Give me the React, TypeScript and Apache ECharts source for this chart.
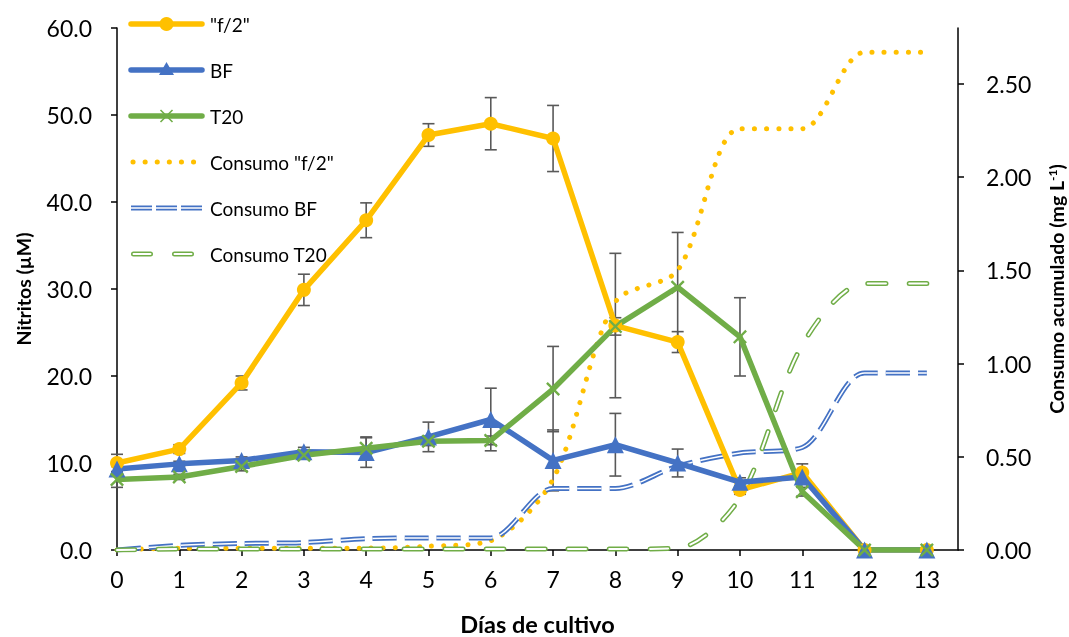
import React, { useEffect, useRef } from "react";
import * as echarts from "echarts";

const days = [0, 1, 2, 3, 4, 5, 6, 7, 8, 9, 10, 11, 12, 13];
const xTicks = [0, 1, 2, 3, 4, 5, 6, 7, 8, 9, 10, 11, 12, 13];
const rightTicks = [0, 0.5, 1, 1.5, 2, 2.5];

const f2 = [10.0, 11.6, 19.2, 29.9, 37.9, 47.7, 49.0, 47.3, 25.8, 23.9, 6.9, 8.9, 0, 0];
const bf = [9.3, 9.9, 10.3, 11.3, 11.2, 13.0, 15.0, 10.3, 12.1, 10.0, 7.8, 8.4, 0, 0];
const t20 = [8.1, 8.4, 9.6, 10.9, 11.7, 12.5, 12.6, 18.5, 25.7, 30.2, 24.5, 6.7, 0, 0];

const f2Err = [1.0, 0.5, 0.8, 1.8, 2.0, 1.3, 3.0, 3.8, 8.3, 1.2, 0.5, 1.0, 0, 0];
const bfErr = [0.3, 0.3, 0.4, 0.5, 1.7, 1.7, 3.6, 3.5, 3.6, 1.6, 0.5, 0.5, 0, 0];
const t20Err = [0.9, 0.3, 0.5, 0.4, 1.3, 0.5, 0.5, 4.9, 1.0, 6.3, 4.5, 0.5, 0, 0];

const consF2 = [0, 0.01, 0.01, 0.01, 0.01, 0.02, 0.05, 0.38, 1.33, 1.5, 2.26, 2.26, 2.67, 2.67];
const consBF = [0, 0.025, 0.035, 0.04, 0.06, 0.065, 0.065, 0.33, 0.33, 0.45, 0.52, 0.55, 0.95, 0.95];
const consT20 = [0, 0.005, 0.005, 0.005, 0.005, 0.005, 0.005, 0.005, 0.005, 0.01, 0.28, 1.1, 1.43, 1.43];

const legendNames = ['"f/2"', "BF", "T20", 'Consumo "f/2"', "Consumo BF", "Consumo T20"];

const YELLOW = "#FFC000";
const BLUE = "#4472C4";
const GREEN = "#70AD47";
const FONT = "Lato";

const pairs = (vals: number[]) => days.map((d, i) => [d, vals[i]]);
const errData = (vals: number[], errs: number[]) =>
  days.map((d, i) => [d, vals[i] - errs[i], vals[i] + errs[i], errs[i]]);

const errSeries = (name: string, vals: number[], errs: number[]) => ({
  name,
  type: "custom",
  xAxisIndex: 0,
  yAxisIndex: 0,
  data: errData(vals, errs),
  silent: true,
  renderItem: (params: any, api: any) => {
    const e = api.value(3);
    if (!e) return null;
    const x = api.value(0);
    const top = api.coord([x, api.value(2)]);
    const bot = api.coord([x, api.value(1)]);
    const style = { stroke: "#595959", lineWidth: 1.6 };
    const hw = 6;
    return {
      type: "group",
      children: [
        { type: "line", shape: { x1: top[0], y1: top[1], x2: bot[0], y2: bot[1] }, style },
        { type: "line", shape: { x1: top[0] - hw, y1: top[1], x2: top[0] + hw, y2: top[1] }, style },
        { type: "line", shape: { x1: bot[0] - hw, y1: bot[1], x2: bot[0] + hw, y2: bot[1] }, style },
      ],
    };
  },
});

const X_SYMBOL =
  "path://M0,1.2 L1.2,0 L5,3.8 L8.8,0 L10,1.2 L6.2,5 L10,8.8 L8.8,10 L5,6.2 L1.2,10 L0,8.8 L3.8,5 Z";

function buildLegend() {
  const x1 = 131;
  const x2 = 202;
  const xm = (x1 + x2) / 2;
  const tx = 210;
  const children: any[] = [];
  legendNames.forEach((name, i) => {
    const y = 24 + 46 * i;
    const seg = (style: any) => ({ type: "line", shape: { x1, y1: y, x2, y2: y }, style, silent: true });
    if (i === 0) {
      children.push(seg({ stroke: YELLOW, lineWidth: 5.5, lineCap: "round" }));
      children.push({ type: "circle", shape: { cx: xm, cy: y, r: 7 }, style: { fill: YELLOW } });
    } else if (i === 1) {
      children.push(seg({ stroke: BLUE, lineWidth: 5.5, lineCap: "round" }));
      children.push({
        type: "polygon",
        shape: { points: [[xm, y - 8], [xm + 7.5, y + 5], [xm - 7.5, y + 5]] },
        style: { fill: BLUE },
      });
    } else if (i === 2) {
      children.push(seg({ stroke: GREEN, lineWidth: 5.5, lineCap: "round" }));
      const s = 6;
      const st = { stroke: GREEN, lineWidth: 1.6 };
      children.push({ type: "line", shape: { x1: xm - s, y1: y - s, x2: xm + s, y2: y + s }, style: st });
      children.push({ type: "line", shape: { x1: xm - s, y1: y + s, x2: xm + s, y2: y - s }, style: st });
    } else if (i === 3) {
      children.push({
        type: "line",
        shape: { x1: x1 + 2, y1: y, x2: x2, y2: y },
        style: { stroke: YELLOW, lineWidth: 5, lineCap: "round", lineDash: [0.1, 12] },
      });
    } else if (i === 4) {
      children.push(seg({ stroke: BLUE, lineWidth: 5, lineDash: [21, 4] }));
      children.push(seg({ stroke: "#fff", lineWidth: 1.4, lineDash: [21, 4] }));
    } else {
      const sh = { x1: x1 + 2.5, y1: y, x2: x2, y2: y };
      children.push({ type: "line", shape: sh, style: { stroke: GREEN, lineWidth: 5, lineCap: "round", lineDash: [17, 24] } });
      children.push({ type: "line", shape: sh, style: { stroke: "#fff", lineWidth: 2, lineCap: "round", lineDash: [17, 24] } });
    }
    children.push({
      type: "text",
      x: tx,
      y,
      style: { text: name, fontFamily: FONT, fontSize: 19, fill: "#000", verticalAlign: "middle", align: "left" },
    });
  });
  return children;
}

export default function App() {
  const ref = useRef<HTMLDivElement>(null);

  useEffect(() => {
    if (!ref.current) return;
    const chart = echarts.init(ref.current, undefined, { renderer: "svg" });
    const axisLine = { show: true, lineStyle: { color: "#000", width: 1.5 } };
    const tick = { show: true, length: 6, lineStyle: { color: "#000", width: 1.5 } };
    const labelStyle = { fontFamily: FONT, fontSize: 23, color: "#000" };
    const nameStyle = { fontFamily: FONT, fontSize: 19.5, fontWeight: "bold" as const, color: "#000" };

    chart.setOption({
      animation: false,
      textStyle: { fontFamily: FONT },
      grid: { left: 117, right: 111, top: 28, bottom: 87, containLabel: false, outerBoundsMode: "none" },
      graphic: buildLegend(),
      xAxis: {
        type: "value",
        min: 0,
        max: 13.5,
        name: "Días de cultivo",
        nameLocation: "middle",
        nameGap: 64,
        nameTextStyle: { ...nameStyle, fontSize: 23.5, lineHeight: 20 },
        axisLine,
        axisTick: { ...tick, customValues: xTicks },
        axisLabel: { ...labelStyle, margin: 17, customValues: xTicks, formatter: (v: number) => String(v) },
        splitLine: { show: false },
      },
      yAxis: [
        {
          type: "value",
          min: 0,
          max: 60,
          interval: 10,
          name: "Nitritos (µM)",
          nameLocation: "middle",
          nameRotate: 90,
          nameGap: 84,
          nameTextStyle: nameStyle,
          axisLine,
          axisTick: tick,
          axisLabel: { ...labelStyle, margin: 25, formatter: (v: number) => v.toFixed(1) },
          splitLine: { show: false },
        },
        {
          type: "value",
          min: 0,
          max: 2.8,
          position: "right",
          name: "{a|Consumo acumulado (mg L}{s|-1}{a|)}",
          nameLocation: "middle",
          nameRotate: 90,
          nameGap: 88,
          nameTextStyle: {
            ...nameStyle,
            rich: {
              a: { fontFamily: FONT, fontSize: 19.5, fontWeight: "bold", color: "#000" },
              s: { fontFamily: FONT, fontSize: 12, fontWeight: "bold", color: "#000", verticalAlign: "top", padding: [0, 0, 8, 0] },
            },
          },
          axisLine,
          axisTick: { ...tick, customValues: rightTicks },
          axisLabel: { ...labelStyle, margin: 28, customValues: rightTicks, formatter: (v: number) => v.toFixed(2) },
          splitLine: { show: false },
        },
      ],
      series: [
        errSeries("err_f2", f2, f2Err),
        errSeries("err_bf", bf, bfErr),
        errSeries("err_t20", t20, t20Err),
        {
          name: 'Consumo "f/2"',
          type: "line",
          yAxisIndex: 1,
          data: pairs(consF2),
          smooth: 0.3,
          symbol: "none",
          lineStyle: { color: YELLOW, width: 5, type: [0.1, 12], cap: "round" },
          itemStyle: { color: YELLOW },
        },
        {
          name: "Consumo BF",
          type: "line",
          yAxisIndex: 1,
          data: pairs(consBF),
          smooth: 0.3,
          symbol: "none",
          lineStyle: { color: BLUE, width: 5, type: [24, 8] },
          itemStyle: { color: BLUE },
        },
        {
          name: "_innerBF",
          type: "line",
          yAxisIndex: 1,
          data: pairs(consBF),
          smooth: 0.3,
          symbol: "none",
          silent: true,
          lineStyle: { color: "#fff", width: 1.5, type: [24, 8] },
        },
        {
          name: "Consumo T20",
          type: "line",
          yAxisIndex: 1,
          data: pairs(consT20),
          smooth: 0.3,
          symbol: "none",
          lineStyle: { color: GREEN, width: 5, type: [18, 23], cap: "round" },
          itemStyle: { color: GREEN },
        },
        {
          name: "_innerT20",
          type: "line",
          yAxisIndex: 1,
          data: pairs(consT20),
          smooth: 0.3,
          symbol: "none",
          silent: true,
          lineStyle: { color: "#fff", width: 2, type: [18, 23], cap: "round" },
        },
        {
          name: '"f/2"',
          type: "line",
          yAxisIndex: 0,
          data: pairs(f2),
          symbol: "circle",
          symbolSize: 14,
          lineStyle: { color: YELLOW, width: 5.5 },
          itemStyle: { color: YELLOW },
        },
        {
          name: "BF",
          type: "line",
          yAxisIndex: 0,
          data: pairs(bf),
          symbol: "triangle",
          symbolSize: 17,
          lineStyle: { color: BLUE, width: 5.5 },
          itemStyle: { color: BLUE },
        },
        {
          name: "T20",
          type: "line",
          yAxisIndex: 0,
          data: pairs(t20),
          symbol: X_SYMBOL,
          symbolSize: 14,
          lineStyle: { color: GREEN, width: 5.5 },
          itemStyle: { color: GREEN },
        },
      ],
    });
    return () => chart.dispose();
  }, []);

  return <div ref={ref} style={{ position: "fixed", left: 0, top: 0, width: 1069, height: 637 }} />;
}
